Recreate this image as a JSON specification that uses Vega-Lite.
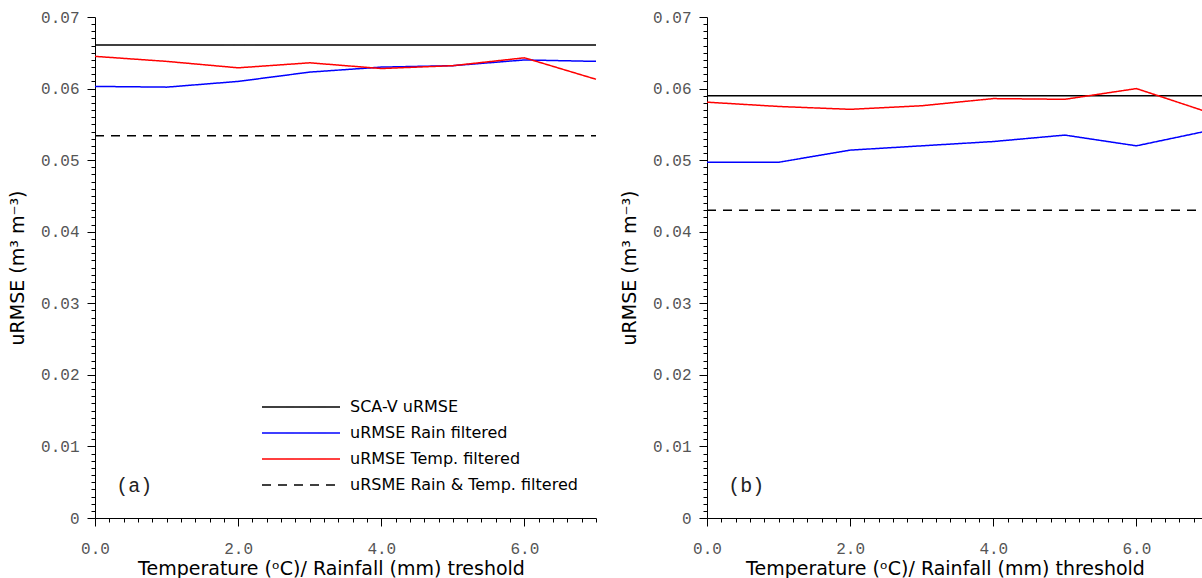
{
  "$schema": "https://vega.github.io/schema/vega-lite/v6.json",
  "background": "white",
  "padding": {"left": 8, "top": 9, "right": 0, "bottom": 0},
  "config": {
    "view": {"stroke": null},
    "concat": {"spacing": 21},
    "axis": {
      "grid": false,
      "domainColor": "#000000",
      "domainWidth": 1,
      "tickColor": "#000000",
      "tickWidth": 1,
      "tickCount": 500,
      "labelFont": "Liberation Mono",
      "labelFontSize": 16,
      "labelColor": "#555555",
      "labelFlush": false,
      "labelOverlap": false,
      "titleFont": "DejaVu Sans",
      "titleFontWeight": "normal",
      "titleColor": "#000000"
    }
  },
  "datasets": {
    "obs": [
      {"panel": "a", "series": "SCA-V uRMSE", "x": 0, "v": 0.0661},
      {"panel": "a", "series": "SCA-V uRMSE", "x": 7, "v": 0.0661},
      {"panel": "a", "series": "uRMSE Rain filtered", "x": 0, "v": 0.0603},
      {"panel": "a", "series": "uRMSE Rain filtered", "x": 1, "v": 0.0602},
      {"panel": "a", "series": "uRMSE Rain filtered", "x": 2, "v": 0.0610},
      {"panel": "a", "series": "uRMSE Rain filtered", "x": 3, "v": 0.0623},
      {"panel": "a", "series": "uRMSE Rain filtered", "x": 4, "v": 0.0630},
      {"panel": "a", "series": "uRMSE Rain filtered", "x": 5, "v": 0.0632},
      {"panel": "a", "series": "uRMSE Rain filtered", "x": 6, "v": 0.0640},
      {"panel": "a", "series": "uRMSE Rain filtered", "x": 7, "v": 0.0638},
      {"panel": "a", "series": "uRMSE Temp. filtered", "x": 0, "v": 0.0645},
      {"panel": "a", "series": "uRMSE Temp. filtered", "x": 1, "v": 0.0638},
      {"panel": "a", "series": "uRMSE Temp. filtered", "x": 2, "v": 0.0629},
      {"panel": "a", "series": "uRMSE Temp. filtered", "x": 3, "v": 0.0636},
      {"panel": "a", "series": "uRMSE Temp. filtered", "x": 4, "v": 0.0628},
      {"panel": "a", "series": "uRMSE Temp. filtered", "x": 5, "v": 0.0632},
      {"panel": "a", "series": "uRMSE Temp. filtered", "x": 6, "v": 0.0643},
      {"panel": "a", "series": "uRMSE Temp. filtered", "x": 7, "v": 0.0613},
      {"panel": "a", "series": "uRSME Rain & Temp. filtered", "x": 0, "v": 0.0534},
      {"panel": "a", "series": "uRSME Rain & Temp. filtered", "x": 7, "v": 0.0534},
      {"panel": "b", "series": "SCA-V uRMSE", "x": 0, "v": 0.0590},
      {"panel": "b", "series": "SCA-V uRMSE", "x": 7, "v": 0.0590},
      {"panel": "b", "series": "uRMSE Rain filtered", "x": 0, "v": 0.0497},
      {"panel": "b", "series": "uRMSE Rain filtered", "x": 1, "v": 0.0497},
      {"panel": "b", "series": "uRMSE Rain filtered", "x": 2, "v": 0.0514},
      {"panel": "b", "series": "uRMSE Rain filtered", "x": 3, "v": 0.0520},
      {"panel": "b", "series": "uRMSE Rain filtered", "x": 4, "v": 0.0526},
      {"panel": "b", "series": "uRMSE Rain filtered", "x": 5, "v": 0.0535},
      {"panel": "b", "series": "uRMSE Rain filtered", "x": 6, "v": 0.0520},
      {"panel": "b", "series": "uRMSE Rain filtered", "x": 7, "v": 0.0541},
      {"panel": "b", "series": "uRMSE Temp. filtered", "x": 0, "v": 0.0581},
      {"panel": "b", "series": "uRMSE Temp. filtered", "x": 1, "v": 0.0575},
      {"panel": "b", "series": "uRMSE Temp. filtered", "x": 2, "v": 0.0571},
      {"panel": "b", "series": "uRMSE Temp. filtered", "x": 3, "v": 0.0576},
      {"panel": "b", "series": "uRMSE Temp. filtered", "x": 4, "v": 0.0586},
      {"panel": "b", "series": "uRMSE Temp. filtered", "x": 5, "v": 0.0585},
      {"panel": "b", "series": "uRMSE Temp. filtered", "x": 6, "v": 0.0600},
      {"panel": "b", "series": "uRMSE Temp. filtered", "x": 7, "v": 0.0567},
      {"panel": "b", "series": "uRSME Rain & Temp. filtered", "x": 0, "v": 0.0430},
      {"panel": "b", "series": "uRSME Rain & Temp. filtered", "x": 7, "v": 0.0430}
    ]
  },
  "resolve": {"scale": {"color": "independent", "strokeDash": "independent"}},
  "hconcat": [
    {
      "width": 501,
      "height": 501,
      "layer": [
        {
          "data": {"name": "obs"},
          "transform": [{"filter": "datum.panel == 'a'"}],
          "mark": {"type": "line", "strokeWidth": 1.5},
          "encoding": {
            "x": {
              "field": "x", "type": "quantitative",
              "scale": {"domain": [0, 7], "nice": false, "zero": false},
              "axis": {
                "title": "Temperature (ᵒC)/ Rainfall (mm) treshold",
                "titleFontSize": 19,
                "titleX": 236,
                "values": [0,0.2,0.4,0.6,0.8,1,1.2,1.4,1.6,1.8,2,2.2,2.4,2.6,2.8,3,3.2,3.4,3.6,3.8,4,4.2,4.4,4.6,4.8,5,5.2,5.4,5.6,5.8,6,6.2,6.4,6.6,6.8,7],
                "labelExpr": "abs(datum.value/2 - round(datum.value/2)) < 0.001 && datum.value < 6.9 ? format(datum.value, '.1f') : ''",
                "tickSize": {"condition": {"test": "abs(datum.value/2 - round(datum.value/2)) < 0.001", "value": 8}, "value": 4},
                "labelPadding": 14,
                "titlePadding": 3
              }
            },
            "y": {
              "field": "v", "type": "quantitative",
              "scale": {"domain": [0, 0.07], "nice": false, "zero": true},
              "axis": {
                "title": "uRMSE (m³ m⁻³)",
                "titleFontSize": 19,
                "values": [0,0.001,0.002,0.003,0.004,0.005,0.006,0.007,0.008,0.009,0.01,0.011,0.012,0.013,0.014,0.015,0.016,0.017,0.018,0.019,0.02,0.021,0.022,0.023,0.024,0.025,0.026,0.027,0.028,0.029,0.03,0.031,0.032,0.033,0.034,0.035,0.036,0.037,0.038,0.039,0.04,0.041,0.042,0.043,0.044,0.045,0.046,0.047,0.048,0.049,0.05,0.051,0.052,0.053,0.054,0.055,0.056,0.057,0.058,0.059,0.06,0.061,0.062,0.063,0.064,0.065,0.066,0.067,0.068,0.069,0.07],
                "labelExpr": "abs(datum.value*100 - round(datum.value*100)) < 0.001 ? (datum.value == 0 ? '0' : format(datum.value, '.2f')) : ''",
                "tickSize": {"condition": {"test": "abs(datum.value*100 - round(datum.value*100)) < 0.001", "value": 8}, "value": 4},
                "labelPadding": 8,
                "titlePadding": 13
              }
            },
            "color": {
              "field": "series", "type": "nominal",
              "scale": {"domain": ["SCA-V uRMSE", "uRMSE Rain filtered", "uRMSE Temp. filtered", "uRSME Rain & Temp. filtered"], "range": ["#000000", "#0000ff", "#ff0000", "#000000"]},
              "legend": {"title": null, "orient": "none", "legendX": 166, "legendY": 372, "symbolType": "M-1,0H3.588", "symbolSize": 1156, "symbolStrokeWidth": 1.5, "labelFont": "DejaVu Sans", "labelFontSize": 16, "labelColor": "#000000", "labelOffset": 53, "labelLimit": 0, "rowPadding": 0}
            },
            "strokeDash": {
              "field": "series", "type": "nominal",
              "scale": {"domain": ["SCA-V uRMSE", "uRMSE Rain filtered", "uRMSE Temp. filtered", "uRSME Rain & Temp. filtered"], "range": [[1, 0], [1, 0], [1, 0], [9, 7]]},
              "legend": {"title": null, "orient": "none", "legendX": 166, "legendY": 372, "symbolType": "M-1,0H3.588", "symbolSize": 1156, "symbolStrokeWidth": 1.5, "labelFont": "DejaVu Sans", "labelFontSize": 16, "labelColor": "#000000", "labelOffset": 53, "labelLimit": 0, "rowPadding": 0}
            }
          }
        },
        {
          "data": {"values": [{"label": "(a)"}]},
          "mark": {"type": "text", "font": "Liberation Mono", "fontSize": 20, "color": "#222222", "align": "center", "baseline": "middle"},
          "encoding": {
            "x": {"datum": 0.55, "type": "quantitative"},
            "y": {"datum": 0.0045, "type": "quantitative"},
            "text": {"field": "label"}
          }
        }
      ]
    },
    {
      "width": 501,
      "height": 501,
      "layer": [
        {
          "data": {"name": "obs"},
          "transform": [{"filter": "datum.panel == 'b'"}],
          "mark": {"type": "line", "strokeWidth": 1.5},
          "encoding": {
            "x": {
              "field": "x", "type": "quantitative",
              "scale": {"domain": [0, 7], "nice": false, "zero": false},
              "axis": {
                "title": "Temperature (ᵒC)/ Rainfall (mm) threshold",
                "titleFontSize": 19,
                "titleX": 238,
                "values": [0,0.2,0.4,0.6,0.8,1,1.2,1.4,1.6,1.8,2,2.2,2.4,2.6,2.8,3,3.2,3.4,3.6,3.8,4,4.2,4.4,4.6,4.8,5,5.2,5.4,5.6,5.8,6,6.2,6.4,6.6,6.8,7],
                "labelExpr": "abs(datum.value/2 - round(datum.value/2)) < 0.001 && datum.value < 6.9 ? format(datum.value, '.1f') : ''",
                "tickSize": {"condition": {"test": "abs(datum.value/2 - round(datum.value/2)) < 0.001", "value": 8}, "value": 4},
                "labelPadding": 14,
                "titlePadding": 3
              }
            },
            "y": {
              "field": "v", "type": "quantitative",
              "scale": {"domain": [0, 0.07], "nice": false, "zero": true},
              "axis": {
                "title": "uRMSE (m³ m⁻³)",
                "titleFontSize": 19,
                "values": [0,0.001,0.002,0.003,0.004,0.005,0.006,0.007,0.008,0.009,0.01,0.011,0.012,0.013,0.014,0.015,0.016,0.017,0.018,0.019,0.02,0.021,0.022,0.023,0.024,0.025,0.026,0.027,0.028,0.029,0.03,0.031,0.032,0.033,0.034,0.035,0.036,0.037,0.038,0.039,0.04,0.041,0.042,0.043,0.044,0.045,0.046,0.047,0.048,0.049,0.05,0.051,0.052,0.053,0.054,0.055,0.056,0.057,0.058,0.059,0.06,0.061,0.062,0.063,0.064,0.065,0.066,0.067,0.068,0.069,0.07],
                "labelExpr": "abs(datum.value*100 - round(datum.value*100)) < 0.001 ? (datum.value == 0 ? '0' : format(datum.value, '.2f')) : ''",
                "tickSize": {"condition": {"test": "abs(datum.value*100 - round(datum.value*100)) < 0.001", "value": 8}, "value": 4},
                "labelPadding": 8,
                "titlePadding": 13
              }
            },
            "color": {
              "field": "series", "type": "nominal",
              "scale": {"domain": ["SCA-V uRMSE", "uRMSE Rain filtered", "uRMSE Temp. filtered", "uRSME Rain & Temp. filtered"], "range": ["#000000", "#0000ff", "#ff0000", "#000000"]},
              "legend": null
            },
            "strokeDash": {
              "field": "series", "type": "nominal",
              "scale": {"domain": ["SCA-V uRMSE", "uRMSE Rain filtered", "uRMSE Temp. filtered", "uRSME Rain & Temp. filtered"], "range": [[1, 0], [1, 0], [1, 0], [9, 7]]},
              "legend": null
            }
          }
        },
        {
          "data": {"values": [{"label": "(b)"}]},
          "mark": {"type": "text", "font": "Liberation Mono", "fontSize": 20, "color": "#222222", "align": "center", "baseline": "middle"},
          "encoding": {
            "x": {"datum": 0.55, "type": "quantitative"},
            "y": {"datum": 0.0045, "type": "quantitative"},
            "text": {"field": "label"}
          }
        }
      ]
    }
  ]
}
